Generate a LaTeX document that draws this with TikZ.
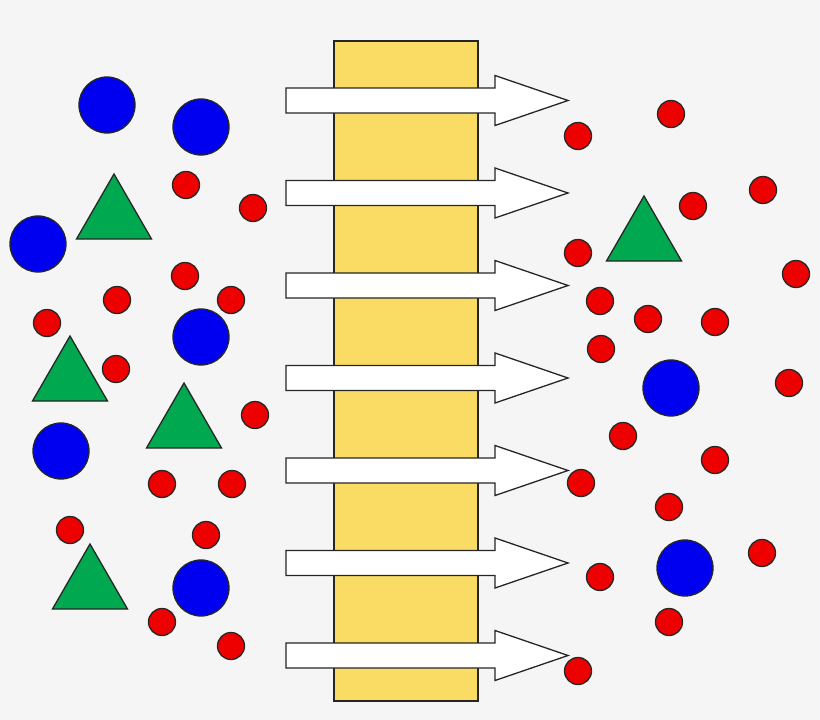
\documentclass[tikz,border=0pt]{standalone}
\definecolor{bg}{HTML}{F5F5F5}
\definecolor{memb}{HTML}{FADC64}
\definecolor{bblue}{HTML}{0000F0}
\definecolor{rred}{HTML}{EE0000}
\definecolor{ggreen}{HTML}{00A84F}
\tikzset{
  outl/.style={draw=black!85, line width=1.3pt},
  bigc/.style={outl, fill=bblue},
  smallc/.style={outl, fill=rred},
  tri/.style={outl, fill=ggreen, line join=miter},
  arr/.style={outl, fill=white, line join=miter},
}
\begin{document}
\begin{tikzpicture}[x=1pt,y=-1pt]
\fill[bg] (0,0) rectangle (820,720);
\useasboundingbox (0,0) rectangle (820,720);
% membrane
\draw[outl, fill=memb] (334,41) rectangle (478,701);
% arrows
\foreach \y in {100.5,193,285.5,378,470.5,563,655.5}{
  \draw[arr] (286,\y-12.5) -- (495,\y-12.5) -- (495,\y-25) -- (568,\y) -- (495,\y+25) -- (495,\y+12.5) -- (286,\y+12.5) -- cycle;
}
% blue circles
\foreach \x/\y in {107/105,201/127,38/244,201/337,61/451,201/588,671/388,685/568}{
  \draw[bigc] (\x,\y) circle (28);
}
% triangles (apex x, apex y)
\foreach \x/\y in {114/174,70/336,184/383,90/544,644/196}{
  \draw[tri] (\x,\y) -- (\x+37.5,\y+65) -- (\x-37.5,\y+65) -- cycle;
}
% red circles
\foreach \x/\y in {186/185,253/208,185/276,117/300,231/300,47/323,116/369,255/415,162/484,232/484,70/530,206/535,162/622,231/646,
  578/136,671/114,763/190,693/206,578/253,796/274,600/301,648/319,715/322,601/349,789/383,623/436,715/460,581/483,669/507,762/553,600/577,669/622,578/671}{
  \draw[smallc] (\x,\y) circle (13.5);
}
\end{tikzpicture}
\end{document}
